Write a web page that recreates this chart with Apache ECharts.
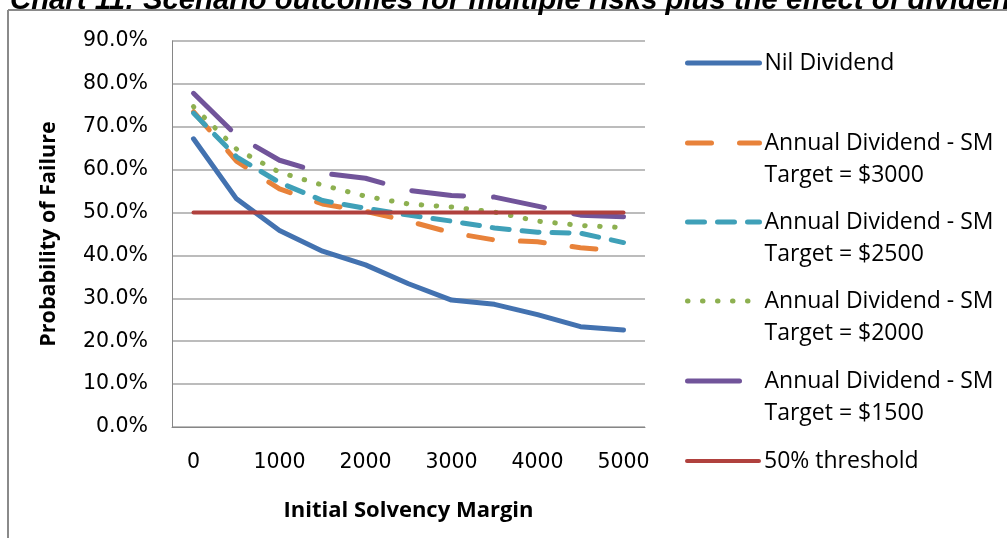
<!DOCTYPE html>
<html>
<head>
<meta charset="utf-8">
<script src="https://cdn.jsdelivr.net/npm/echarts@6/dist/echarts.min.js"></script>
<style>
html,body{margin:0;padding:0;background:#fff;}
#chart{width:1007px;height:538px;}
</style>
</head>
<body>
<div id="chart"></div>
<script>
const title = 'Chart 11: Scenario outcomes for multiple risks plus the effect of dividends';
const xCategories = ['0','500','1000','1500','2000','2500','3000','3500','4000','4500','5000'];
const nilDividend = [67.2, 53.2, 45.8, 41.0, 37.8, 33.4, 29.6, 28.6, 26.2, 23.4, 22.6];
const target3000  = [73.5, 62.0, 55.5, 52.0, 50.3, 48.0, 45.3, 43.6, 43.2, 41.8, 41.0];
const target2500  = [73.2, 63.0, 57.0, 52.8, 51.0, 49.4, 48.0, 46.4, 45.4, 45.2, 43.0];
const target2000  = [74.7, 64.8, 59.4, 56.4, 53.8, 52.0, 51.3, 50.1, 48.0, 47.0, 46.5];
const target1500  = [77.8, 68.0, 62.2, 59.2, 58.0, 55.2, 54.0, 53.6, 51.5, 49.4, 49.0];
const threshold   = [50, 50, 50, 50, 50, 50, 50, 50, 50, 50, 50];
const yTicks = { min: 0, max: 90, interval: 10 };

const seriesNames = [
  'Nil Dividend',
  'Annual Dividend - SM Target = $3000',
  'Annual Dividend - SM Target = $2500',
  'Annual Dividend - SM Target = $2000',
  'Annual Dividend - SM Target = $1500',
  '50% threshold'
];
const colors = ['#4372B0', '#E8823A', '#3FA0B8', '#8DB050', '#71549A', '#B0413E'];
const dashes = ['solid', [24, 28], [17, 13], [0.5, 14.5], [52, 30], 'solid'];
const widths = [5, 5, 5, 5, 5, 4];
const dataSets = [nilDividend, target3000, target2500, target2000, target1500, threshold];

const font = 'Open Sans';
const tickFont = 'DejaVu Sans';
const chart = echarts.init(document.getElementById('chart'));

const series = dataSets.map((d, i) => ({
  name: seriesNames[i],
  type: 'line',
  data: d,
  symbol: 'none',
  smooth: false,
  z: i === 5 ? 3 : 2 + i * 0.01,
  color: colors[i],
  lineStyle: { color: colors[i], width: widths[i], type: dashes[i], cap: 'round', join: 'round' }
}));

const legendTops = [63, 143, 222, 301, 381, 461];
const legends = seriesNames.map((n, i) => {
  const twoLine = n.indexOf('Target') >= 0;
  return {
    data: [n],
    left: 685,
    top: legendTops[i] - (twoLine ? 48 : 16),
    padding: 0,
    itemWidth: 72,
    itemHeight: 10,
    selectedMode: false,
    itemStyle: { opacity: 0 },
    lineStyle: { width: widths[i] },
    formatter: function (name) {
      return name.indexOf(' Target') >= 0 ? '\n' + name.replace(' Target', '\nTarget') : name;
    },
    textStyle: {
      fontFamily: font,
      fontSize: 23,
      color: '#000',
      lineHeight: 32
    }
  };
});

chart.setOption({
  animation: false,
  backgroundColor: '#fff',
  grid: { left: 172, top: 41, right: 362, bottom: 111, containLabel: false },
  legend: legends,
  graphic: [
    { type: 'line', shape: { x1: 8, y1: 10, x2: 1007, y2: 10 }, style: { stroke: '#8a8a8a', lineWidth: 2 } },
    { type: 'line', shape: { x1: 8, y1: 10, x2: 8, y2: 538 }, style: { stroke: '#8a8a8a', lineWidth: 2 } },
    { type: 'text', left: 10, top: -14, style: { text: title, font: 'italic bold 29.3px "Liberation Sans"', fill: '#000' } }
  ],
  xAxis: {
    type: 'category',
    data: xCategories,
    boundaryGap: true,
    name: 'Initial Solvency Margin',
    nameLocation: 'middle',
    nameGap: 73,
    nameTextStyle: { fontFamily: font, fontWeight: 'bold', fontSize: 22, color: '#000' },
    axisLine: { lineStyle: { color: '#868686', width: 1 } },
    axisTick: { show: false },
    axisLabel: { interval: 1, margin: 25, fontFamily: tickFont, fontSize: 20.5, color: '#000' },
    splitLine: { show: false }
  },
  yAxis: {
    type: 'value',
    min: yTicks.min,
    max: yTicks.max,
    interval: yTicks.interval,
    name: 'Probability of Failure',
    nameLocation: 'middle',
    nameRotate: 90,
    nameGap: 112,
    nameTextStyle: { fontFamily: font, fontWeight: 'bold', fontSize: 21.5, color: '#000' },
    axisLine: { show: true, lineStyle: { color: '#868686', width: 1 } },
    axisTick: { show: false },
    axisLabel: { margin: 24, fontFamily: tickFont, fontSize: 20.5, color: '#000', formatter: v => v.toFixed(1) + '%' },
    splitLine: { lineStyle: { color: '#a6a6a6', width: 1.5 } }
  },
  series: series
});
</script>
</body>
</html>
